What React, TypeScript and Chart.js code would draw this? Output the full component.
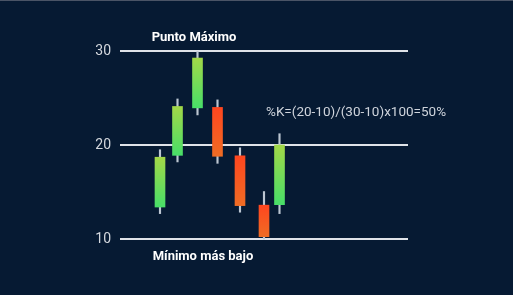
import React, { useEffect, useRef } from "react";
import { Chart, registerables } from "chart.js";

Chart.register(...registerables);

// x positions (linear units) of each candle
const positions = [4.0, 5.75, 7.75, 9.75, 12.0, 14.4, 15.95];
const opens = [13.4, 18.9, 23.95, 24.0, 18.85, 13.6, 13.65];
const closes = [18.7, 24.1, 29.25, 18.8, 13.55, 10.25, 20.0];
const highs = [19.5, 24.9, 29.95, 24.8, 19.7, 15.05, 21.2];
const lows = [12.7, 18.2, 23.2, 18.05, 12.85, 10.0, 12.7];
const yTicks = [10, 20, 30];
const topLabel = "Punto Máximo";
const bottomLabel = "Mínimo más bajo";
const formulaLabel = "%K=(20-10)/(30-10)x100=50%";

export default function App() {
  const ref = useRef<HTMLCanvasElement | null>(null);

  useEffect(() => {
    const canvas = ref.current;
    if (!canvas) return;

    const bodyData = positions.map((x, i) => ({ x, y: [opens[i], closes[i]] }));
    const wickData = positions.map((x, i) => ({ x, y: [lows[i], highs[i]] }));

    const gradientFor = (ctx: any) => {
      const chart = ctx.chart;
      const i = ctx.dataIndex;
      const up = closes[i] >= opens[i];
      const fallback = up ? "#72db58" : "#f85a21";
      if (!chart.chartArea || i === undefined) return fallback;
      const y = chart.scales.y;
      const top = y.getPixelForValue(Math.max(opens[i], closes[i]));
      const bot = y.getPixelForValue(Math.min(opens[i], closes[i]));
      const g = chart.ctx.createLinearGradient(0, top, 0, bot);
      if (up) {
        g.addColorStop(0, "#a2d848");
        g.addColorStop(1, "#48de68");
      } else {
        g.addColorStop(0, "#ff461f");
        g.addColorStop(1, "#ef6c24");
      }
      return g;
    };

    const textPlugin = {
      id: "texts",
      afterDraw(chart: any) {
        const { ctx } = chart;
        const y = chart.scales.y;
        const x = chart.scales.x;
        ctx.save();
        ctx.textBaseline = "middle";
        ctx.textAlign = "center";
        ctx.fillStyle = "#ffffff";
        ctx.font = "bold 13px Roboto, 'Noto Sans', sans-serif";
        ctx.fillText(topLabel, x.getPixelForValue(7.4), y.getPixelForValue(30) - 13);
        ctx.fillText(bottomLabel, x.getPixelForValue(8.3), y.getPixelForValue(10) + 18);
        ctx.textAlign = "left";
        ctx.fillStyle = "#cfd4dc";
        ctx.font = "13.5px Roboto, 'Noto Sans', sans-serif";
        ctx.fillText(formulaLabel, x.getPixelForValue(14.6), y.getPixelForValue(23.45));
        ctx.restore();
      },
    };

    const chart = new Chart(canvas, {
      type: "bar",
      data: {
        datasets: [
          {
            data: bodyData as any,
            backgroundColor: gradientFor as any,
            borderWidth: 0,
            barThickness: 10,
            grouped: false,
            clip: false as any,
          },
          {
            data: wickData as any,
            backgroundColor: "#bcc6d2",
            borderWidth: 0,
            barThickness: 1.5,
            grouped: false,
            clip: false as any,
          },
        ],
      },
      options: {
        animation: false,
        responsive: false,
        maintainAspectRatio: false,
        layout: { padding: { left: 0, top: 50, right: 105, bottom: 56 } },
        plugins: { legend: { display: false }, tooltip: { enabled: false } },
        scales: {
          x: {
            type: "linear",
            min: 0,
            max: 28.8,
            offset: false,
            display: false,
          },
          y: {
            min: 10,
            max: 30,
            z: 1,
            afterFit: (s: any) => {
              s.width = 120;
            },
            afterBuildTicks: (s: any) => {
              s.ticks = yTicks.map((v) => ({ value: v }));
            },
            border: { display: false },
            grid: { color: "#dfe3e9", lineWidth: 2, drawTicks: false },
            ticks: {
              color: "#d4d8de",
              padding: 9,
              font: { size: 14, family: "Roboto, 'Noto Sans', sans-serif" },
            },
          },
        },
      },
      plugins: [textPlugin],
    });

    return () => chart.destroy();
  }, []);

  return (
    <div
      style={{
        position: "fixed",
        left: 0,
        top: 0,
        width: 513,
        height: 295,
        background: "#061a33",
        borderTop: "1px solid #4a5466",
        boxSizing: "border-box",
        overflow: "hidden",
      }}
    >
      <canvas ref={ref} width={513} height={294} style={{ display: "block" }} />
    </div>
  );
}
